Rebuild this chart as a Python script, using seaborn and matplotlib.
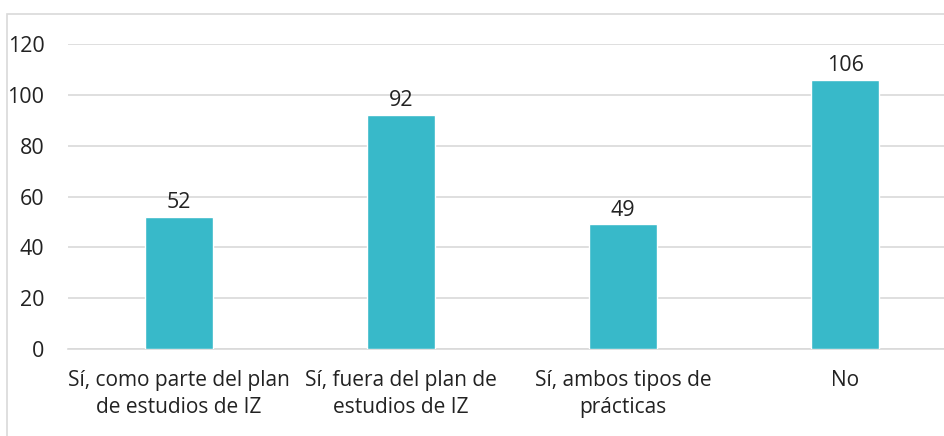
import matplotlib
matplotlib.use("Agg")
import matplotlib.pyplot as plt
import seaborn as sns
import pandas as pd
from matplotlib.patches import Rectangle

# Data
categories = [
    "Sí, como parte del plan\nde estudios de IZ",
    "Sí, fuera del plan de\nestudios de IZ",
    "Sí, ambos tipos de\nprácticas",
    "No",
]
values = [52, 92, 49, 106]
y_ticks = [0, 20, 40, 60, 80, 100, 120]

bar_color = "#38b9c9"
grid_color = "#d9d9d9"
text_color = "#222222"

sns.set_theme(style="white")
plt.rcParams["font.family"] = ["Open Sans", "DejaVu Sans"]

df = pd.DataFrame({"category": categories, "value": values})

fig = plt.figure(figsize=(9.44, 4.36), dpi=100)
ax = fig.add_axes([68 / 944, 87 / 436, 888 / 944, 305 / 436])

# outer chart border
fig.patches.append(Rectangle((7 / 944, -0.1), 1.2, (436 - 14) / 436 + 0.1,
                             transform=fig.transFigure, fill=False,
                             edgecolor="#d9d9d9", linewidth=1.2))

sns.barplot(data=df, x="category", y="value", color=bar_color, width=0.31,
            saturation=1, ax=ax, zorder=3)

ax.set_ylim(0, 120)
ax.set_yticks(y_ticks)
ax.yaxis.grid(True, color=grid_color, linewidth=1.2, zorder=0)
ax.set_axisbelow(True)
for s in ["top", "right", "left"]:
    ax.spines[s].set_visible(False)
ax.spines["bottom"].set_color(grid_color)
ax.spines["bottom"].set_linewidth(1.2)

ax.tick_params(axis="y", length=0, pad=17, labelsize=15.5, labelcolor=text_color)
ax.tick_params(axis="x", length=0, pad=15, labelsize=15, labelcolor=text_color)
for lbl in ax.get_xticklabels():
    lbl.set_linespacing(1.4)
ax.set_xlabel("")
ax.set_ylabel("")

for i, v in enumerate(values):
    ax.text(i, v + 1.5, str(v), ha="center", va="bottom", fontsize=15.5,
            color=text_color)

fig.savefig("out.png", dpi=100)
